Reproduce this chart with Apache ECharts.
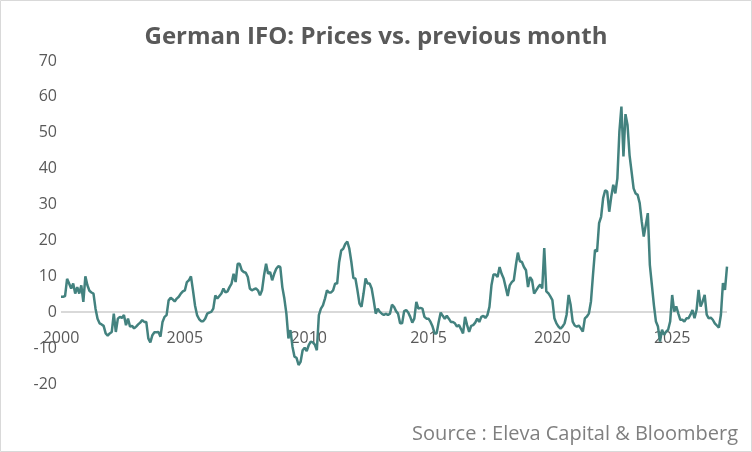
<!DOCTYPE html>
<html><head><meta charset="utf-8">
<script src="https://cdn.jsdelivr.net/npm/echarts@6/dist/echarts.min.js"></script>
<style>html,body{margin:0;padding:0;background:#fff}#c{width:752px;height:452px}</style>
</head><body><div id="c"></div>
<script>
const tickLabels = ['2000', '2005', '2010', '2015', '2020', '2025'];
const tickIndex = [0, 61, 122, 181, 242, 301];
const yTicks = [-20, -10, 0, 10, 20, 30, 40, 50, 60, 70];
const prices = [
4.3,4.3,4.5,9.3,8,6.6,8,5.2,7,5.2,7.5,2.9,10,7.5,6,5.5,5.2,1,-1.8,-3.1,-3.4,-3.8,-5.9,-6.5,
-5.9,-5.5,-0.4,-5.5,-1.8,-1.3,-1.6,-0.8,-3.6,-1.8,-4,-3.8,-4.5,-4,-3.4,-2.9,-2.2,-2.7,-2.7,-7.3,-8.4,-6.4,-5.6,-5.6,
-5.5,-6.8,-2.7,-1.3,-0.8,3.3,4,3.6,3,3.8,4.3,5.2,5.8,6.1,8.4,8.9,10,6.1,1.9,-0.8,-1.9,-2.5,-2.5,-1.8,
-0.4,-0.1,0.1,1,4.7,3.8,4.5,5.2,6.6,5.5,5.8,7,8,10.7,8.4,13.5,13.5,11.7,11.2,11,9.8,6.6,6.1,6.4,
6.6,6.1,4.7,6.1,10.3,13.5,10.7,11.2,8.9,10.7,12.1,12.8,12.6,7,3.8,-0.4,-7.3,-5,-9.6,-12.4,-12.7,-14.7,-13.8,-10.6,
-9.9,-10.8,-9.2,-8.2,-8.4,-9,-10.6,-0.8,1,1.9,3.8,6.1,5.5,5.5,6.1,8,8,14,17.2,17.7,19,19.7,17.7,14,
9.5,9.4,6.1,2.4,1.5,5.2,9.4,8,8,6.6,3.3,-0.4,1,0.1,-0.4,-0.8,-0.4,-0.8,-0.4,2.1,1.5,0.3,-0.4,-3.1,
-3.1,0.3,0.6,-0.1,-1.3,-2.9,-1.8,2.9,1,1.2,1,-1.3,-1.8,-1.8,-2.7,-4,-5.9,-5.9,-2.7,-0.1,-1,-1.8,-1,-1.8,
-2.7,-2.7,-3.1,-4,-3.6,-4.7,-5.9,-1.3,-3.6,-5.5,-3.8,-3.6,-2.9,-1.8,-2.7,-1.3,-1,-1.6,-0.8,1.5,7.5,10.5,10.5,9.8,
12.6,10.7,9.4,7,4.5,7.5,8.4,8.9,13,16.6,14.2,14,12.6,11.7,7,9.8,8.9,5.2,6.1,7,7.7,6.6,17.9,5.8,
5.3,4.4,3.4,-1.7,-3.1,-4,-4.6,-4,-3.1,-0.7,4.8,2,-2.6,-3.7,-4,-3.7,-4.5,-5.4,-1.7,-1.2,-0.3,3,10.4,17.4,
16.9,24.8,26.6,31.8,34,33.6,28,32.2,35.5,33.1,37.3,50.3,57.3,43.4,55.2,52.2,43.8,39.2,34.5,33.1,32.7,30.4,25.3,21.1,
24.3,27.6,13.2,7.6,2,-2.6,-4,-8.2,-4.9,-6.3,-5.4,-4.9,-2.6,4.8,0.2,1.6,-0.3,-2.1,-2.1,-2.6,-1.7,-1.7,-0.7,0.6,
-1.7,0.6,6.2,1.6,3,4.8,-0.7,-1.7,-1.5,-2.1,-3.1,-3.7,-4.3,-0.7,8.1,6.2,12.7
];
const cats = prices.map((_, i) => {
  const k = tickIndex.indexOf(i);
  return k >= 0 ? tickLabels[k] : '';
});
const chart = echarts.init(document.getElementById('c'));
chart.setOption({
  animation: false,
  title: { text: 'German IFO: Prices vs. previous month', left: 'center', top: 20,
    textStyle: { fontFamily: 'Open Sans', fontWeight: 'bold', fontSize: 24, color: '#595959' } },
  graphic: [
    { type: 'rect', shape: { x: 0.5, y: 0.5, width: 751, height: 451 }, style: { fill: 'none', stroke: '#d9d9d9', lineWidth: 1 } },
    { type: 'text', right: 14, bottom: 8, style: { text: 'Source : Eleva Capital & Bloomberg', fontFamily: 'Open Sans', fontSize: 20, fill: '#7f7f7f' } }
  ],
  grid: { left: 61, right: 25, top: 61, bottom: 68 },
  xAxis: { type: 'category', data: cats, boundaryGap: false,
    axisLine: { show: false },
    axisTick: { show: false },
    axisLabel: { interval: (i, v) => v !== '', color: '#595959', fontFamily: 'Open Sans', fontSize: 16, margin: -54 },
    splitLine: { show: false } },
  yAxis: { type: 'value', min: yTicks[0], max: yTicks[yTicks.length - 1], interval: 10,
    axisLine: { show: false }, axisTick: { show: false }, splitLine: { show: false },
    axisLabel: { color: '#595959', fontFamily: 'Open Sans', fontSize: 16, margin: 4 } },
  series: [{ type: 'line', data: prices, showSymbol: false, symbol: 'none', z: 3,
    lineStyle: { color: '#43827f', width: 2.5 },
    markLine: { silent: true, symbol: 'none', label: { show: false }, z: 1,
      lineStyle: { color: '#d9d9d9', width: 2, type: 'solid' }, data: [{ yAxis: 0 }] } }]
});
</script></body></html>
